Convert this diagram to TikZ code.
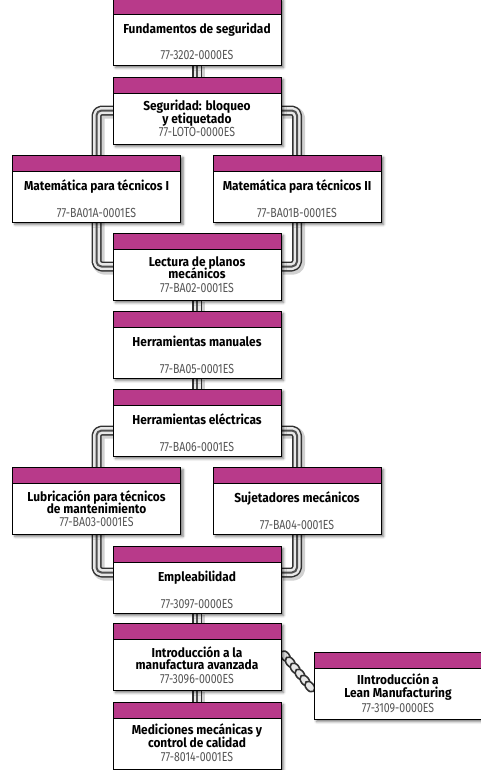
\documentclass[tikz,border=0pt]{standalone}
\usepackage{fontspec}
\setsansfont{Fira Sans}
\newfontfamily\titlefont{Fira Sans}[FakeStretch=0.92]
\newfontfamily\codefont{Fira Sans}[FakeStretch=0.80]
\usetikzlibrary{calc,shadows.blur,shapes.geometric}
\definecolor{bandpink}{RGB}{184,58,138}
\definecolor{tubedark}{RGB}{50,50,50}
\definecolor{tubelight}{RGB}{232,232,232}
\definecolor{codegray}{RGB}{85,85,85}

\tikzset{
  course/.style={draw=black, line width=0.9bp, fill=white,
    minimum width=168bp, minimum height=67bp, inner sep=0pt, outer sep=0pt,
    blur shadow={shadow xshift=2.5bp, shadow yshift=-2.5bp,
      shadow blur radius=2.5bp, shadow opacity=55}},
  bandfill/.style={fill=bandpink, draw=black, line width=0.9bp},
  coursetitle/.style={anchor=north, inner sep=0pt, align=center,
    font=\titlefont\bfseries\fontsize{13}{12.6}\selectfont,
    execute at begin node={\lineskiplimit=-20pt\relax}},
  coursecode/.style={anchor=base, inner sep=0pt, text=codegray,
    font=\codefont\fontsize{13.2}{13}\selectfont},
  tubeshade/.style={line width=12bp, draw=black, opacity=0.18,
    rounded corners=5bp, line join=round, transform canvas={xshift=2bp, yshift=-2bp}},
  tubeouter/.style={line width=10bp, draw=tubedark, rounded corners=5bp, line join=round},
  tubeinner/.style={line width=7bp, draw=tubelight, rounded corners=5bp, line join=round},
  tubecore/.style={line width=2bp, draw=tubedark!85, rounded corners=5bp, line join=round},
  chainlink/.style={ellipse, draw=tubedark, line width=1.6bp, fill=tubelight,
    minimum width=12bp, minimum height=8bp, inner sep=0pt, rotate=-51.5},
}

% a tube between two course boxes
\newcommand\tube[1]{%
  \draw[tubeshade] #1;
  \draw[tubeouter] #1;
  \draw[tubeinner] #1;
  \draw[tubecore] #1;}

% name, centre x, top y, title, code, title top and code baseline below the box top
\newcommand\course[7]{%
  \node[course] (#1) at (#2,#3+33.5) {};
  \draw[bandfill] (#1.north west) rectangle ($(#1.north east)+(0,16)$);
  \node[coursetitle] (#1-title) at ($(#1.north)+(0,#6)$) {\strut #4};
  \node[coursecode] (#1-code) at ($(#1.north)+(0,#7)$) {#5};}

\begin{document}
\begin{tikzpicture}[x=1bp, y=-1bp]
\useasboundingbox (0,0) rectangle (481,770);

% box frames first, so the tubes can refer to them
\begin{scope}[opacity=0]
  \node[minimum width=168bp, minimum height=67bp] (p1) at (197,31.5) {};
  \node[minimum width=168bp, minimum height=67bp] (p2) at (197,110.5) {};
  \node[minimum width=168bp, minimum height=67bp] (p3) at (96.5,188.5) {};
  \node[minimum width=168bp, minimum height=67bp] (p3b) at (297,188.5) {};
  \node[minimum width=168bp, minimum height=67bp] (p4) at (197,266.5) {};
  \node[minimum width=168bp, minimum height=67bp] (p5) at (197,344.5) {};
  \node[minimum width=168bp, minimum height=67bp] (p6) at (197,422.5) {};
  \node[minimum width=168bp, minimum height=67bp] (p7) at (96.5,500.5) {};
  \node[minimum width=168bp, minimum height=67bp] (p8) at (297,500.5) {};
  \node[minimum width=168bp, minimum height=67bp] (p9) at (197,579.5) {};
  \node[minimum width=168bp, minimum height=67bp] (p10) at (197,656.5) {};
  \node[minimum width=168bp, minimum height=67bp] (p11) at (197,735.5) {};
  \node[minimum width=168bp, minimum height=67bp] (lean) at (398,685.5) {};
\end{scope}

% straight tubes down the main column
\tube{(p1.south) -- (p2.north)}
\tube{(p4.south) -- (p5.north)}
\tube{(p5.south) -- (p6.north)}
\tube{(p9.south) -- (p10.north)}
\tube{(p10.south) -- (p11.north)}

% loops round the parallel courses
\tube{(p2.west) -- (p2.west -| p3) -- (p4.west -| p3) -- (p4.west)}
\tube{(p2.east) -- (p2.east -| p3b) -- (p4.east -| p3b) -- (p4.east)}
\coordinate (l6) at ($(p6.west)+(0,8)$);
\coordinate (r6) at ($(p6.east)+(0,8)$);
\coordinate (l9) at ($(p9.west)+(0,-7)$);
\coordinate (r9) at ($(p9.east)+(0,-7)$);
\tube{(l6) -- (l6 -| p7) -- (l9 -| p7) -- (l9)}
\tube{(r6) -- (r6 -| p8) -- (r9 -| p8) -- (r9)}

% chain to the optional course
\coordinate (cs) at ($(p10.east)+(2,-3)$);
\coordinate (ce) at ($(lean.west)+(0,6)$);
\foreach \t [count=\i] in {0.07,0.23,0.39,0.55,0.71,0.87}
  \node[chainlink] (link\i) at ($(cs)!\t!(ce)$) {};

% course boxes
\course{b1}{197}{-2}{Fundamentos de seguridad}{77-3202-0000ES}{24.5}{62}
\course{b2}{197}{77}{Seguridad: bloqueo\\y etiquetado}{77-LOTO-0000ES}{23}{59.5}
\course{b3}{96.5}{155}{Matemática para técnicos I}{77-BA01A-0001ES}{24.5}{62}
\course{b3b}{297}{155}{Matemática para técnicos II}{77-BA01B-0001ES}{24.5}{62}
\course{b4}{197}{233}{Lectura de planos\\mecánicos}{77-BA02-0001ES}{23}{59.5}
\course{b5}{197}{311}{Herramientas manuales}{77-BA05-0001ES}{24.5}{62}
\course{b6}{197}{389}{Herramientas eléctricas}{77-BA06-0001ES}{24.5}{62}
\course{b7}{96.5}{467}{Lubricación para técnicos\\de mantenimiento}{77-BA03-0001ES}{23}{59.5}
\course{b8}{297}{467}{Sujetadores mecánicos}{77-BA04-0001ES}{24.5}{62}
\course{b9}{197}{546}{Empleabilidad}{77-3097-0000ES}{24.5}{62}
\course{b10}{197}{623}{Introducción a la\\manufactura avanzada}{77-3096-0000ES}{23}{60.5}
\course{b11}{197}{702}{Mediciones mecánicas y\\control de calidad}{77-8014-0001ES}{21.5}{59.5}
\course{b12}{398}{652}{IIntroducción a\\Lean Manufacturing}{77-3109-0000ES}{21.5}{60.5}
\end{tikzpicture}
\end{document}
